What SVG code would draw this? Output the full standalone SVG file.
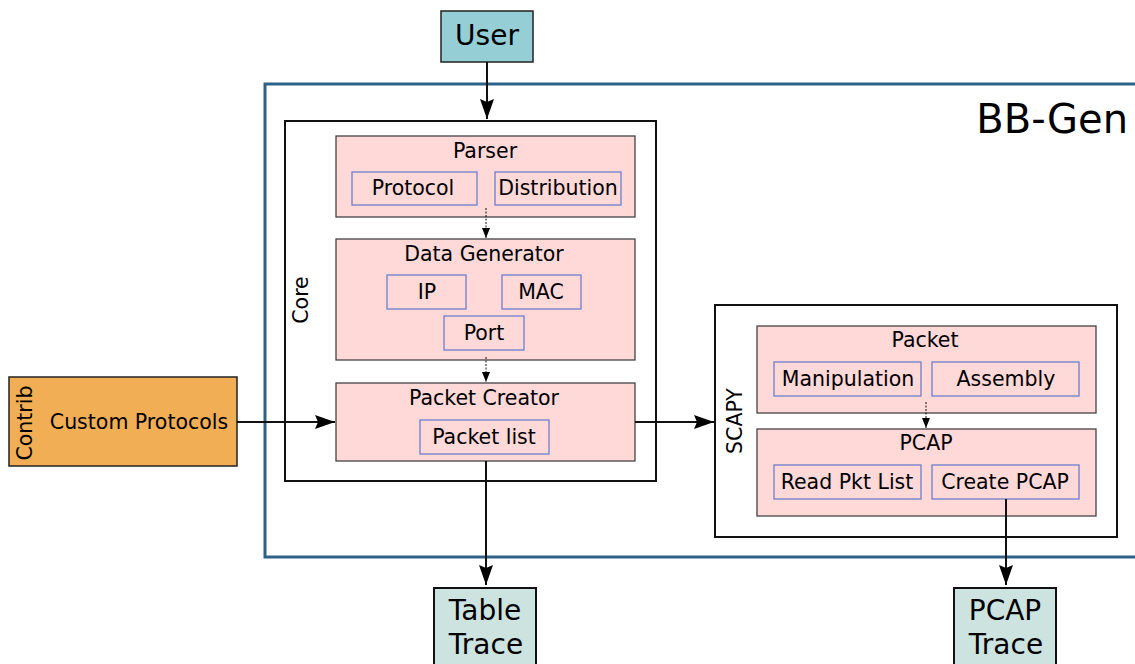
<svg xmlns="http://www.w3.org/2000/svg" width="1135" height="664" viewBox="0 0 1135 664">
<style>
text{font-family:"DejaVu Sans",sans-serif;fill:#000}
.t18{font-size:20.5px;text-anchor:middle}
.t28{font-size:28px;text-anchor:middle}
.blk{fill:#ffd8d8;stroke:#444;stroke-width:1.3}
.sub{fill:none;stroke:#6b80cc;stroke-width:1.3}
.cont{fill:#fff;stroke:#111;stroke-width:2}
.ln{stroke:#111;stroke-width:2;fill:none}
.dot{stroke:#111;stroke-width:1;stroke-dasharray:2 1.5;fill:none}
</style>
<defs>
<marker id="ah" viewBox="0 0 20 14" refX="20" refY="7" markerWidth="20" markerHeight="14" markerUnits="userSpaceOnUse" orient="auto"><path d="M0,0 L20,7 L0,14 L3,7 Z" fill="#000"/></marker>
<marker id="ahs" viewBox="0 0 10 8" refX="10" refY="4" markerWidth="10" markerHeight="8" markerUnits="userSpaceOnUse" orient="auto"><path d="M0,0 L10,4 L0,8 Z" fill="#000"/></marker>
</defs>
<rect width="1135" height="664" fill="#fff"/>
<g id="bbgen">
<rect x="265" y="84" width="880" height="473" fill="#fff" stroke="#2d6188" stroke-width="3"/>
<text x="1128" y="133" style="font-size:40px;text-anchor:end">BB-Gen</text>
</g>
<g id="user">
<rect x="441" y="11" width="92" height="51" fill="#96ced6" stroke="#222" stroke-width="1.5"/>
<text x="487" y="45" class="t28">User</text>
</g>
<g id="core">
<rect x="285" y="121" width="371" height="360" class="cont"/>
<text transform="translate(308,300) rotate(-90)" class="t18">Core</text>
</g>
<g id="parser">
<rect x="336" y="136" width="299" height="81" class="blk"/>
<text x="485" y="158" class="t18">Parser</text>
<rect x="352" y="172" width="125" height="33" class="sub"/>
<text x="413" y="195" class="t18">Protocol</text>
<rect x="495" y="172" width="126" height="33" class="sub"/>
<text x="558" y="195" class="t18">Distribution</text>
</g>
<g id="datagen">
<rect x="336" y="239" width="299" height="121" class="blk"/>
<text x="484" y="261" class="t18">Data Generator</text>
<rect x="387" y="275" width="79" height="34" class="sub"/>
<text x="427" y="299" class="t18">IP</text>
<rect x="502" y="275" width="79" height="34" class="sub"/>
<text x="541" y="299" class="t18">MAC</text>
<rect x="444" y="316" width="80" height="34" class="sub"/>
<text x="484" y="340" class="t18">Port</text>
</g>
<g id="pktcreator">
<rect x="336" y="383" width="299" height="78" class="blk"/>
<text x="484" y="405" class="t18">Packet Creator</text>
<rect x="420" y="420" width="129" height="34" class="sub"/>
<text x="484" y="444" class="t18">Packet list</text>
</g>
<g id="contrib">
<rect x="9" y="377" width="228" height="89" fill="#f2ae55" stroke="#222" stroke-width="1.5"/>
<text transform="translate(32,423) rotate(-90)" class="t18">Contrib</text>
<text x="139" y="429" class="t18">Custom Protocols</text>
</g>
<g id="scapy">
<rect x="715" y="305" width="402" height="232" class="cont"/>
<text transform="translate(742,421) rotate(-90)" class="t18">SCAPY</text>
</g>
<g id="packet">
<rect x="757" y="326" width="339" height="87" class="blk"/>
<text x="925" y="347" class="t18">Packet</text>
<rect x="774" y="362" width="147" height="34" class="sub"/>
<text x="848" y="386" class="t18">Manipulation</text>
<rect x="932" y="362" width="147" height="34" class="sub"/>
<text x="1006" y="386" class="t18">Assembly</text>
</g>
<g id="pcap">
<rect x="757" y="429" width="339" height="87" class="blk"/>
<text x="926" y="450" class="t18">PCAP</text>
<rect x="774" y="465" width="147" height="34" class="sub"/>
<text x="847" y="489" class="t18">Read Pkt List</text>
<rect x="932" y="465" width="147" height="34" class="sub"/>
<text x="1005" y="489" class="t18">Create PCAP</text>
</g>
<g id="tabletrace">
<rect x="434" y="588" width="102" height="80" fill="#cde3df" stroke="#111" stroke-width="2"/>
<text x="485" y="620" class="t28">Table</text>
<text x="486" y="654" class="t28">Trace</text>
</g>
<g id="pcaptrace">
<rect x="954" y="588" width="102" height="80" fill="#cde3df" stroke="#111" stroke-width="2"/>
<text x="1005" y="620" class="t28">PCAP</text>
<text x="1006" y="654" class="t28">Trace</text>
</g>
<g id="connectors">
<line x1="487" y1="62" x2="487" y2="119" class="ln" marker-end="url(#ah)"/>
<line x1="486" y1="208" x2="486" y2="238" class="dot" marker-end="url(#ahs)"/>
<line x1="486" y1="357" x2="486" y2="382" class="dot" marker-end="url(#ahs)"/>
<line x1="237" y1="422" x2="335" y2="422" class="ln" stroke-width="1.6" marker-end="url(#ah)"/>
<line x1="635" y1="422" x2="714" y2="422" class="ln" stroke-width="1.6" marker-end="url(#ah)"/>
<line x1="926" y1="402" x2="926" y2="428" class="dot" marker-end="url(#ahs)"/>
<line x1="486" y1="461" x2="486" y2="585" class="ln" marker-end="url(#ah)"/>
<line x1="1006" y1="499" x2="1006" y2="585" class="ln" marker-end="url(#ah)"/>
</g>
</svg>
